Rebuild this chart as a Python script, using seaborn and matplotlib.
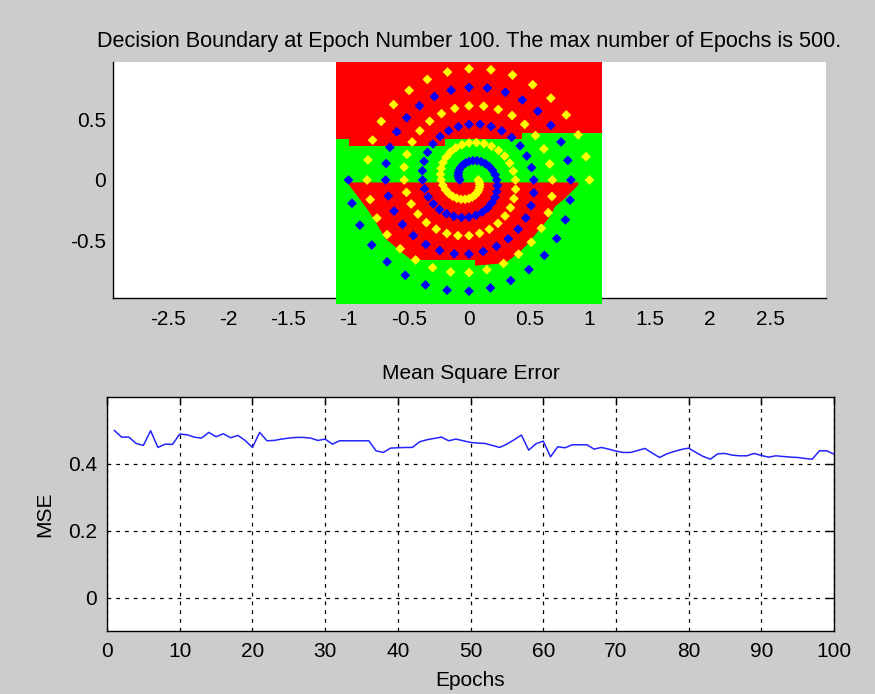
import matplotlib
matplotlib.use("Agg")
import matplotlib.pyplot as plt
import seaborn as sns
import pandas as pd

# Two interleaved spirals (training points)
yellow_x = [1.000, 0.971, 0.906, 0.807, 0.680, 0.529, 0.361, 0.182,
            0.000, -0.178, -0.346, -0.497, -0.626, -0.728, -0.800, -0.839,
            -0.846, -0.820, -0.764, -0.680, -0.571, -0.443, -0.302, -0.152,
            0.000, 0.148, 0.287, 0.411, 0.517, 0.600, 0.657, 0.688,
            0.692, 0.670, 0.622, 0.552, 0.462, 0.358, 0.243, 0.122,
            0.000, -0.118, -0.228, -0.326, -0.408, -0.472, -0.515, -0.538,
            -0.538, -0.519, -0.480, -0.424, -0.354, -0.272, -0.184, -0.092,
            0.000, 0.088, 0.169, 0.240, 0.299, 0.344, 0.373, 0.387,
            0.385, 0.368, 0.338, 0.296, 0.245, 0.187, 0.125, 0.062,
            0.000, -0.058, -0.110, -0.155, -0.190, -0.216, -0.231, -0.236,
            -0.231, -0.217, -0.195, -0.168, -0.136, -0.101, -0.066, -0.032,
            0.000, 0.028, 0.052, 0.069, 0.082, 0.088, 0.089, 0.085,
            0.077]
yellow_y = [0.000, 0.193, 0.375, 0.540, 0.680, 0.791, 0.871, 0.915,
            0.923, 0.896, 0.835, 0.744, 0.626, 0.486, 0.331, 0.167,
            0.000, -0.163, -0.316, -0.454, -0.571, -0.664, -0.728, -0.764,
            -0.769, -0.745, -0.693, -0.616, -0.517, -0.401, -0.272, -0.137,
            0.000, 0.133, 0.258, 0.369, 0.462, 0.536, 0.586, 0.613,
            0.615, 0.594, 0.551, 0.488, 0.408, 0.315, 0.213, 0.107,
            0.000, -0.103, -0.199, -0.283, -0.354, -0.408, -0.444, -0.462,
            -0.462, -0.443, -0.409, -0.360, -0.299, -0.230, -0.155, -0.077,
            0.000, 0.073, 0.140, 0.198, 0.245, 0.280, 0.302, 0.311,
            0.308, 0.292, 0.267, 0.232, 0.190, 0.144, 0.096, 0.047,
            0.000, -0.043, -0.081, -0.112, -0.136, -0.152, -0.160, -0.160,
            -0.154, -0.141, -0.124, -0.104, -0.082, -0.059, -0.037, -0.017,
            0.000]
blue_x = [-1.000, -0.971, -0.906, -0.807, -0.680, -0.529, -0.361, -0.182,
          0.000, 0.178, 0.346, 0.497, 0.626, 0.728, 0.800, 0.839,
          0.846, 0.820, 0.764, 0.680, 0.571, 0.443, 0.302, 0.152,
          0.000, -0.148, -0.287, -0.411, -0.517, -0.600, -0.657, -0.688,
          -0.692, -0.670, -0.622, -0.552, -0.462, -0.358, -0.243, -0.122,
          0.000, 0.118, 0.228, 0.326, 0.408, 0.472, 0.515, 0.538,
          0.538, 0.519, 0.480, 0.424, 0.354, 0.272, 0.184, 0.092,
          0.000, -0.088, -0.169, -0.240, -0.299, -0.344, -0.373, -0.387,
          -0.385, -0.368, -0.338, -0.296, -0.245, -0.187, -0.125, -0.062,
          0.000, 0.058, 0.110, 0.155, 0.190, 0.216, 0.231, 0.236,
          0.231, 0.217, 0.195, 0.168, 0.136, 0.101, 0.066, 0.032,
          0.000, -0.028, -0.052, -0.069, -0.082, -0.088, -0.089, -0.085,
          -0.077]
blue_y = [0.000, -0.193, -0.375, -0.540, -0.680, -0.791, -0.871, -0.915,
          -0.923, -0.896, -0.835, -0.744, -0.626, -0.486, -0.331, -0.167,
          0.000, 0.163, 0.316, 0.454, 0.571, 0.664, 0.728, 0.764,
          0.769, 0.745, 0.693, 0.616, 0.517, 0.401, 0.272, 0.137,
          0.000, -0.133, -0.258, -0.369, -0.462, -0.536, -0.586, -0.613,
          -0.615, -0.594, -0.551, -0.488, -0.408, -0.315, -0.213, -0.107,
          0.000, 0.103, 0.199, 0.283, 0.354, 0.408, 0.444, 0.462,
          0.462, 0.443, 0.409, 0.360, 0.299, 0.230, 0.155, 0.077,
          0.000, -0.073, -0.140, -0.198, -0.245, -0.280, -0.302, -0.311,
          -0.308, -0.292, -0.267, -0.232, -0.190, -0.144, -0.096, -0.047,
          0.000, 0.043, 0.081, 0.112, 0.136, 0.152, 0.160, 0.160,
          0.154, 0.141, 0.124, 0.104, 0.082, 0.059, 0.037, 0.017,
          0.000]

# Decision regions of the network (class "green" fills the evaluated square)
grid_x = [-1.1, 1.1, 1.1, -1.1]
grid_y = [-1.03, -1.03, 0.98, 0.98]
red_top_x = [-1.1, 1.1, 1.1, 0.443, 0.443, -0.199, -0.199, -0.993, -0.993, -1.1]
red_top_y = [0.98, 0.98, 0.388, 0.388, 0.343, 0.343, 0.285, 0.285, 0.338, 0.338]
red_bowl_x = [-1.0, 0.907, 0.907, 0.894, 0.797, 0.714, 0.672, 0.617, 0.548,
              0.492, 0.423, 0.354, 0.299, 0.050, 0.050, -0.476, -0.550,
              -0.614, -0.697, -0.744, -0.794, -0.849, -0.891, -0.996]
red_bowl_y = [-0.02, -0.02, -0.04, -0.055, -0.152, -0.221, -0.304, -0.373,
              -0.456, -0.526, -0.595, -0.650, -0.691, -0.711, -0.664, -0.664,
              -0.608, -0.553, -0.484, -0.401, -0.318, -0.235, -0.180, -0.041]

# Training error per epoch
epochs = list(range(1, 101))
mse = [0.500, 0.480, 0.480, 0.461, 0.455, 0.499, 0.449, 0.459, 0.458, 0.489,
       0.487, 0.480, 0.477, 0.494, 0.481, 0.490, 0.478, 0.485, 0.470, 0.449,
       0.494, 0.469, 0.470, 0.474, 0.477, 0.479, 0.479, 0.477, 0.470, 0.474,
       0.459, 0.469, 0.469, 0.469, 0.469, 0.469, 0.439, 0.434, 0.447, 0.448,
       0.449, 0.449, 0.466, 0.472, 0.476, 0.480, 0.469, 0.474, 0.469, 0.464,
       0.462, 0.461, 0.455, 0.449, 0.459, 0.472, 0.486, 0.441, 0.460, 0.468,
       0.421, 0.451, 0.448, 0.457, 0.457, 0.457, 0.444, 0.449, 0.444, 0.438,
       0.434, 0.434, 0.440, 0.446, 0.432, 0.419, 0.430, 0.437, 0.443, 0.447,
       0.434, 0.422, 0.414, 0.430, 0.431, 0.426, 0.424, 0.424, 0.431, 0.425,
       0.420, 0.424, 0.422, 0.420, 0.419, 0.416, 0.414, 0.439, 0.439, 0.429]

top_xticks = [-2.5, -2, -1.5, -1, -0.5, 0, 0.5, 1, 1.5, 2, 2.5]
top_yticks = [-0.5, 0, 0.5]
mse_xticks = [0, 10, 20, 30, 40, 50, 60, 70, 80, 90, 100]
mse_yticks = [0, 0.2, 0.4]

sns.set_theme(style="white")
plt.rcParams["font.family"] = ["Liberation Sans", "DejaVu Sans"]
plt.rcParams["axes.unicode_minus"] = False
FS = 15

fig = plt.figure(figsize=(8.75, 6.94), dpi=100, facecolor="#cccccc")
ax1 = fig.add_axes([0.1291, 0.5706, 0.8149, 0.3401])
ax2 = fig.add_axes([0.1223, 0.0908, 0.8309, 0.3372])

# ---- decision boundary panel ----
ax1.set_facecolor("white")
ax1.fill(grid_x, grid_y, color="#00ff00", lw=0, zorder=1, clip_on=False)
ax1.fill(red_top_x, red_top_y, color="#ff0000", lw=0, zorder=1.1, clip_on=False)
ax1.fill(red_bowl_x, red_bowl_y, color="#ff0000", lw=0, zorder=1.1)

pts = pd.DataFrame({
    "x": yellow_x + blue_x,
    "y": yellow_y + blue_y,
    "cls": ["yellow"] * len(yellow_x) + ["blue"] * len(blue_x),
})
sns.scatterplot(data=pts, x="x", y="y", hue="cls",
                palette={"yellow": "#ffff00", "blue": "#0000ff"},
                marker="D", s=20, edgecolor="face", linewidth=0.5,
                legend=False, ax=ax1, zorder=3)

ax1.set_xlim(-2.955, 2.963)
ax1.set_ylim(-0.98, 0.98)
ax1.set_xticks(top_xticks)
ax1.set_xticklabels([f"{v:g}" for v in top_xticks])
ax1.set_yticks(top_yticks)
ax1.set_yticklabels([f"{v:g}" for v in top_yticks])
ax1.set_xlabel("")
ax1.set_ylabel("")
ax1.set_axisbelow(True)
for side in ("top", "right"):
    ax1.spines[side].set_visible(False)
for side in ("left", "bottom"):
    ax1.spines[side].set_color("black")
    ax1.spines[side].set_linewidth(1.0)
    ax1.spines[side].set_zorder(0.5)
ax1.tick_params(axis="both", direction="in", length=6, width=1,
                color="black", labelsize=FS, labelcolor="black")
ax1.tick_params(axis="x", pad=8.5)
ax1.tick_params(axis="y", pad=5)
ax1.set_title("Decision Boundary at Epoch Number 100. The max number of Epochs is 500.",
              fontsize=15.6, color="black", pad=11)

# ---- mean square error panel ----
ax2.set_facecolor("white")
sns.lineplot(x=epochs, y=mse, color="#2424ff", linewidth=1.1, ax=ax2)
ax2.set_xlim(0, 100)
ax2.set_ylim(-0.1, 0.6)
ax2.set_xticks(mse_xticks)
ax2.set_xticklabels([f"{v:g}" for v in mse_xticks])
ax2.set_yticks(mse_yticks)
ax2.set_yticklabels([f"{v:g}" for v in mse_yticks])
ax2.grid(True, color="black", linestyle=(0, (3, 4)), linewidth=0.9)
for side in ("top", "right", "left", "bottom"):
    ax2.spines[side].set_visible(True)
    ax2.spines[side].set_color("black")
    ax2.spines[side].set_linewidth(1.0)
ax2.tick_params(axis="both", direction="in", length=6, width=1,
                color="black", labelsize=FS, labelcolor="black",
                top=True, right=True)
ax2.tick_params(axis="x", pad=8)
ax2.tick_params(axis="y", pad=7)
ax2.set_title("Mean Square Error", fontsize=FS, color="black", pad=13)
ax2.set_xlabel("Epochs", fontsize=FS, color="black", labelpad=7)
ax2.set_ylabel("MSE", fontsize=FS, color="black", labelpad=10)

fig.savefig("out.png", dpi=100, facecolor=fig.get_facecolor())
